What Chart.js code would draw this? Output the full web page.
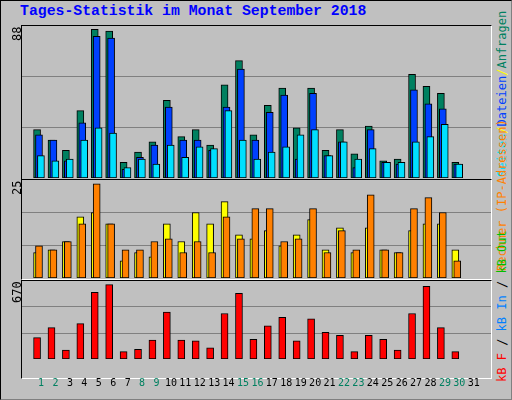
<!DOCTYPE html>
<html><head><meta charset="utf-8">
<script src="https://cdn.jsdelivr.net/npm/chart.js@4"></script>
<style>
body{margin:0;background:#c0c0c0;}
#wrap{position:relative;width:510px;height:398px;background:#c0c0c0;border:1px solid #000;border-right-color:#808080;border-bottom-color:#808080;overflow:hidden;}
.frame{position:absolute;border:1px solid;border-color:#000 #fff #fff #000;box-sizing:border-box;}
canvas{position:absolute;}
.t{position:absolute;font-family:"Liberation Mono",monospace;white-space:nowrap;}
.rot{position:absolute;transform-origin:0 0;transform:rotate(-90deg);font-family:"DejaVu Sans Mono",monospace;font-size:12px;white-space:nowrap;}
</style></head><body>
<div id="wrap">
<div class="t" style="left:19px;top:2px;font-size:14.8px;font-weight:bold;color:#0000ff;">Tages-Statistik im Monat September 2018</div>
<div class="frame" style="left:20px;top:24px;width:471px;height:155px;"></div>
<div class="frame" style="left:20px;top:178px;width:471px;height:101px;"></div>
<div class="frame" style="left:20px;top:279px;width:471px;height:99px;"></div>
<canvas id="c1" width="469" height="152" style="left:21px;top:25px;"></canvas>
<canvas id="c2" width="469" height="98" style="left:21px;top:179px;"></canvas>
<canvas id="c3" width="469" height="118" style="left:21px;top:280px;"></canvas>
<div class="rot" style="left:9px;top:40px;">88</div>
<div class="rot" style="left:9px;top:194px;">25</div>
<div class="rot" style="left:9px;top:302px;">670</div>
<div class="rot" style="left:494px;top:176px;"><span style="color:#00e0ff">Seiten</span><span style="color:#ffff00">/</span><span style="color:#0040ff">Dateien</span><span style="color:#ffff00">/</span><span style="color:#008060">Anfragen</span></div>
<div class="rot" style="left:494px;top:270px;"><span style="color:#ff8000">Rechner (IP-Adressen)</span></div>
<div class="rot" style="left:494px;top:381px;"><span style="color:#ff0000">kB F</span><span style="color:#000"> / </span><span style="color:#0080ff">kB In</span><span style="color:#000"> / </span><span style="color:#00c000">kB Out</span></div>
</div>
<script>
const days = Array.from({length:31},(_,i)=>i+1);
const anfragen = [28,22,16,39,86,85,9,15,21,45,24,28,19,54,68,25,42,52,29,52,16,28,14,30,10,11,60,53,49,9,0];
const dateien  = [25,22,10,32,82,81,5,12,19,41,22,22,16,41,63,22,38,48,11,49,13,21,6,28,9,8,51,43,40,8,0];
const seiten   = [13,10,11,22,29,26,6,11,8,19,12,18,17,39,22,11,15,18,25,28,13,21,11,17,9,9,21,24,31,8,0];
const besuche  = [6.5,7.2,9.3,15.6,16.7,13.8,4.4,6.5,5.4,13.8,9.3,16.7,13.8,19.5,11,10,12.1,8.2,11,14.9,7.2,12.8,6.5,12.8,7.2,6.5,12.1,13.8,13.8,7.2,0];
const rechner  = [8.2,7.2,9.3,13.8,24,13.8,7.2,7.2,9.3,10,6.5,9.3,6.5,15.6,10,17.7,17.7,9.3,10,17.7,6.5,12.1,7.2,21.2,7.2,6.5,17.7,20.5,16.7,4.4,0];
const kbF      = [183,270,76,304,572,639,63,83,163,404,163,157,96,391,565,170,284,357,157,344,230,203,63,203,170,76,391,625,270,63,0];
const maxTop = 88, maxMid = 25, maxBot = 670;
const weekend = [1,2,8,9,15,16,22,23,29,30];
const OFF = -0.28, STEP = 0.134;
function pts(arr, k){ return arr.map((v,i)=>({x:days[i]+OFF+k*STEP, y:v})); }
function ds(arr,k,color){ return {data:pts(arr,k),backgroundColor:color,borderColor:'#000',borderWidth:1,barThickness:7,grouped:false,borderSkipped:false}; }
function make(id, sets, max, showX){
  new Chart(document.getElementById(id),{
    type:'bar',
    data:{datasets:sets},
    options:{
      responsive:false,animation:false,devicePixelRatio:1,
      layout:{padding:0},
      plugins:{legend:{display:false},tooltip:{enabled:false}},
      scales:{
        x:{type:'linear',min:0.2,max:31.67,display:showX,
           grid:{display:false},border:{display:false},
           afterBuildTicks:a=>{a.ticks=days.map(d=>({value:d}));},
           ticks:{padding:10,autoSkip:false,maxRotation:0,
             font:{family:'DejaVu Sans Mono',size:10,lineHeight:1.2},
             color:c=>weekend.includes(c.tick.value)?'#008060':'#000',
             callback:v=>String(v)}},
        y:{min:0,max:max,display:true,
           afterFit:a=>{a.width=0;},
           afterBuildTicks:a=>{a.ticks=[{value:max/3},{value:2*max/3}];},
           ticks:{display:false},grid:{color:'#808080',drawTicks:false},border:{display:false}}
      }
    }
  });
}
make('c1',[ds(seiten,2,'#00e0ff'),ds(dateien,1,'#0040ff'),ds(anfragen,0,'#008060')],maxTop,false);
make('c2',[ds(rechner,1,'#ff8000'),ds(besuche,0,'#ffff00')],maxMid,false);
make('c3',[ds(kbF,0,'#ff0000')],maxBot,true);
</script>
</body></html>
